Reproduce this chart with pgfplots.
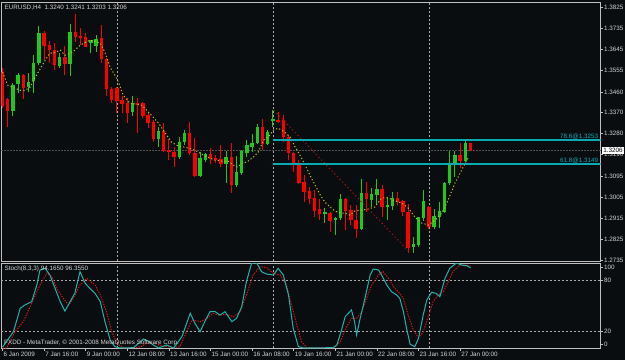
\documentclass[border=0pt]{standalone}
\usepackage{pgfplots}
\pgfplotsset{compat=1.18}
\usepackage{pgfplotstable}
\usepackage{fontspec}
\setmainfont{Liberation Sans}
\definecolor{bg}{RGB}{10,13,15}
\definecolor{framec}{RGB}{192,192,192}
\definecolor{txt}{RGB}{210,210,210}
\definecolor{upc}{RGB}{30,200,30}
\definecolor{dnc}{RGB}{250,0,0}
\definecolor{fibcyan}{RGB}{10,170,178}
\definecolor{stm}{RGB}{32,178,170}
\definecolor{sts}{RGB}{220,20,20}
\definecolor{mac}{RGB}{190,190,30}
\definecolor{fibtr}{RGB}{160,20,20}
\definecolor{sepc}{RGB}{170,170,170}
\definecolor{cur}{RGB}{80,80,80}
\newcommand{\sm}{\fontsize{6.3}{7}\selectfont}

\pgfplotstableread{
i O H L C
0 1.3545 1.3562 1.3390 1.3398
1 1.3428 1.3433 1.3308 1.3377
2 1.3377 1.3497 1.3355 1.3489
3 1.3493 1.3540 1.3454 1.3532
4 1.3532 1.3536 1.3428 1.3476
5 1.3480 1.3540 1.3458 1.3502
6 1.3506 1.3618 1.3454 1.3583
7 1.3583 1.3743 1.3575 1.3713
8 1.3713 1.3721 1.3596 1.3657
9 1.3661 1.3678 1.3583 1.3640
10 1.3640 1.3670 1.3553 1.3575
11 1.3571 1.3627 1.3562 1.3609
12 1.3609 1.3657 1.3532 1.3579
13 1.3579 1.3752 1.3527 1.3717
14 1.3717 1.3795 1.3674 1.3696
15 1.3700 1.3734 1.3661 1.3696
16 1.3696 1.3713 1.3652 1.3652
17 1.3670 1.3683 1.3627 1.3683
18 1.3657 1.3704 1.3631 1.3687
19 1.3691 1.3747 1.3583 1.3601
20 1.3601 1.3605 1.3441 1.3471
21 1.3471 1.3480 1.3411 1.3424
22 1.3476 1.3480 1.3368 1.3420
23 1.3424 1.3441 1.3368 1.3407
24 1.3411 1.3433 1.3325 1.3368
25 1.3372 1.3441 1.3355 1.3411
26 1.3411 1.3433 1.3282 1.3407
27 1.3411 1.3415 1.3346 1.3355
28 1.3359 1.3372 1.3303 1.3325
29 1.3329 1.3338 1.3243 1.3256
30 1.3256 1.3308 1.3221 1.3290
31 1.3290 1.3325 1.3200 1.3204
32 1.3209 1.3256 1.3165 1.3200
33 1.3200 1.3221 1.3135 1.3178
34 1.3178 1.3265 1.3170 1.3243
35 1.3243 1.3295 1.3230 1.3282
36 1.3282 1.3329 1.3187 1.3196
37 1.3196 1.3260 1.3092 1.3096
38 1.3096 1.3200 1.3092 1.3174
39 1.3165 1.3196 1.3157 1.3191
40 1.3191 1.3217 1.3148 1.3170
41 1.3174 1.3187 1.3152 1.3170
42 1.3170 1.3230 1.3135 1.3148
43 1.3148 1.3204 1.3066 1.3178
44 1.3178 1.3239 1.3023 1.3058
45 1.3058 1.3183 1.3049 1.3114
46 1.3109 1.3209 1.3101 1.3204
47 1.3196 1.3252 1.3178 1.3230
48 1.3221 1.3277 1.3200 1.3239
49 1.3239 1.3321 1.3234 1.3308
50 1.3308 1.3342 1.3209 1.3234
51 1.3234 1.3295 1.3230 1.3286
52 1.3333 1.3381 1.3308 1.3342
53 1.3338 1.3372 1.3325 1.3329
54 1.3338 1.3359 1.3243 1.3265
55 1.3265 1.3273 1.3165 1.3196
56 1.3196 1.3200 1.3114 1.3144
57 1.3144 1.3165 1.3062 1.3066
58 1.3071 1.3101 1.2984 1.3027
59 1.3032 1.3049 1.2976 1.2997
60 1.3002 1.3036 1.2920 1.2946
61 1.2954 1.2997 1.2907 1.2933
62 1.2933 1.2959 1.2894 1.2941
63 1.2937 1.2941 1.2855 1.2902
64 1.2907 1.2920 1.2842 1.2915
65 1.2915 1.3019 1.2907 1.2997
66 1.2997 1.3002 1.2864 1.2946
67 1.2950 1.2971 1.2885 1.2907
68 1.2907 1.2971 1.2829 1.2868
69 1.2868 1.3084 1.2864 1.3023
70 1.3023 1.3071 1.2941 1.2997
71 1.2993 1.3045 1.2963 1.3019
72 1.3015 1.3084 1.2971 1.3040
73 1.3040 1.3058 1.2920 1.2963
74 1.2963 1.3006 1.2907 1.2971
75 1.2967 1.3027 1.2950 1.3002
76 1.3002 1.3027 1.2971 1.2984
77 1.2989 1.2993 1.2924 1.2941
78 1.2941 1.2976 1.2765 1.2786
79 1.2790 1.2834 1.2765 1.2803
80 1.2799 1.2920 1.2790 1.2920
81 1.2915 1.3036 1.2902 1.2989
82 1.2963 1.2967 1.2868 1.2877
83 1.2877 1.2954 1.2868 1.2924
84 1.2920 1.2984 1.2872 1.2946
85 1.2941 1.3071 1.2937 1.3066
86 1.3066 1.3204 1.3058 1.3144
87 1.3144 1.3204 1.3092 1.3187
88 1.3187 1.3239 1.3131 1.3161
89 1.3161 1.3256 1.3157 1.3239
90 1.3240 1.3241 1.3203 1.3206
}\candles

\pgfplotstableread{
i ma
0 1.3545
1 1.3489
2.4 1.3476
3.4 1.3467
4.3 1.3467
5.3 1.3480
6.2 1.3519
7.2 1.3558
8.2 1.3596
9.1 1.3627
10.1 1.3631
11.1 1.3640
12 1.3618
13 1.3627
13.9 1.3640
14.9 1.3661
15.9 1.3674
16.8 1.3683
17.8 1.3678
18.8 1.3670
19.7 1.3631
20.7 1.3566
21.6 1.3532
22.3 1.3502
23.2 1.3446
24.5 1.3411
25.8 1.3407
26.8 1.3402
27.7 1.3381
28.8 1.3355
30 1.3325
31.3 1.3282
32.5 1.3243
33.8 1.3226
35.1 1.3221
36.4 1.3213
37.7 1.3200
38.6 1.3187
39.9 1.3174
40.9 1.3165
42.2 1.3161
43.4 1.3161
44.4 1.3144
45.2 1.3135
46 1.3152
47 1.3157
48.2 1.3178
49.2 1.3200
50.2 1.3252
51.1 1.3265
52.1 1.3295
53 1.3303
54.3 1.3286
55.3 1.3265
56.3 1.3221
57.2 1.3187
58.2 1.3144
59.1 1.3101
60.1 1.3058
61.1 1.3015
62 1.2984
63 1.2963
63.9 1.2946
64.9 1.2937
65.9 1.2937
66.8 1.2928
67.8 1.2946
69.1 1.2950
70.3 1.2954
71.6 1.2963
72.9 1.3002
74.2 1.3002
75.5 1.2989
76.8 1.2980
78 1.2959
79.3 1.2920
80.6 1.2894
81.9 1.2885
83.2 1.2907
84.5 1.2937
85.7 1.2993
87 1.3066
88.3 1.3122
89.6 1.3178
}\matable

\pgfplotstableread{
i s
0 1
2.1 19.2
3.4 46.7
4.3 50.6
5.6 54.5
6.6 74.1
7.2 91.8
8.2 93.7
9.1 85.9
10.1 70.2
11.1 54.5
12 43.5
13 54.5
13.9 64.3
14.9 89.8
15.9 76.1
16.8 70.2
17.8 64.3
18.8 54.5
19.7 31
20.7 9.4
21.6 1.6
22.6 0
25.2 0.4
27.1 10.6
28 8.2
29 3.5
30 0
31.6 3.5
32.9 0
34.5 13.3
36.1 40.8
37 29
38 19.2
38.9 31
39.9 42.7
40.9 42.7
41.8 38.8
42.8 42.7
44.1 31
45 34.9
46 48.6
46.9 78
47.9 99.6
48.9 100
49.8 89.8
50.8 87
52.1 85.9
53 93.7
54 85.9
55 62.3
55.9 23.1
56.9 1.6
57.9 0
63.6 0.4
64.3 3.5
65.2 21.2
65.9 36.9
66.5 40.8
67.1 44.7
67.7 31
68.1 15.3
68.7 32.9
69.7 58.4
70.7 85.9
71.3 92.9
72.3 91.8
72.9 85.9
73.9 74.1
74.8 66.3
75.8 62.3
76.4 58.4
77.1 42.7
77.7 23.1
78.4 4.3
79.3 1.6
80 11.4
80.9 38.8
81.6 56.5
82.5 65.5
83.4 64.3
84.1 60.4
85.1 82
86 93.7
87.3 100
88.3 97.6
89.3 96.9
90 94.165
}\stmain

\pgfplotstableread{
i s
0 0
0.8 0
2.4 19.2
4 31
5.6 52.5
7.2 74.1
8.5 87.8
9.5 83.9
10.4 70.2
11.7 58.4
12.7 50.6
13.6 58.4
14.9 74.1
16.2 82
17.8 74.1
18.8 62.3
20 42.7
21 19.2
22 5.5
23.2 0
26.5 1
27.8 6
29.5 5
31 2
32.9 0.5
34.1 1.6
35.4 19.2
36.4 32.9
38 31
39.3 34.9
40.5 40.8
41.5 38.8
43.1 39.6
44.4 36.9
45.7 42.7
46.9 62.3
48.2 85.9
49.5 95.7
50.8 94.5
52.1 87.8
53.4 85.9
54.6 74.1
55.6 50.6
56.6 27.1
57.5 7.5
58.5 0.4
63.6 0.4
64.9 6.7
66.2 25.1
67.1 34.9
68.1 34.9
69.1 42.7
70 58.4
71 74.1
72.3 85.9
73.2 89.8
74.2 82
75.2 72.2
76.1 66.3
77.1 58.4
78 38.8
79 21.2
80 12.1
80.9 19.2
81.9 36.9
82.8 54.5
83.8 62.3
84.8 66.3
85.7 78
86.7 90.6
88 97.6
89.3 97.6
90 96.355
}\stsig

\pgfplotsset{
  mtaxis/.style={
    scale only axis, anchor=south west,
    width=599pt, xmin=-0.2, xmax=115,
    axis line style={framec, line width=0.8pt},
    tick align=outside, major tick length=2.5pt,
    tick style={framec, line width=0.6pt},
    ytick pos=right, yticklabel pos=right,
    yticklabel style={font=\sm, text=txt, anchor=west, inner sep=1pt},
    xticklabel style={font=\sm, text=txt, anchor=north west, inner sep=1pt},
  },
  wick/.style 2 args={draw=none, forget plot,
    restrict expr to domain={\thisrow{C}-\thisrow{O}}{#1},
    error bars/.cd, y dir=both, y explicit, error mark=none,
    error bar style={draw=#2, line width=1pt}},
  body/.style 2 args={draw=none, forget plot,
    restrict expr to domain={\thisrow{C}-\thisrow{O}}{#1},
    error bars/.cd, y dir=both, y explicit, error mark=none,
    error bar style={draw=#2, line width=3.4pt}},
}

\begin{document}
\begin{tikzpicture}
\useasboundingbox (0,0) rectangle (625pt,360pt);
\fill[bg] (0,0) rectangle (625pt,360pt);

\begin{axis}[mtaxis,
  at={(1.5pt,99pt)}, height=259pt,
  ymin=1.2730, ymax=1.3848,
  xtick=\empty,
  ytick={1.2735,1.2825,1.2915,1.3005,1.3095,1.3190,1.3280,1.3370,1.3460,1.3555,1.3645,1.3735,1.3825},
  yticklabels={1.2735,1.2825,1.2915,1.3005,1.3095,1.3190,1.3280,1.3370,1.3460,1.3555,1.3645,1.3735,1.3825},
]
% period separators and current price
\addplot[sepc, line width=0.8pt, dash pattern=on 2pt off 2pt] coordinates {(22,1.2730) (22,1.3848)};
\addplot[sepc, line width=0.8pt, dash pattern=on 2pt off 2pt] coordinates {(52,1.2730) (52,1.3848)};
\addplot[sepc, line width=0.8pt, dash pattern=on 2pt off 2pt] coordinates {(82,1.2730) (82,1.3848)};
\addplot[cur, line width=1.3pt, dash pattern=on 2pt off 1pt] coordinates {(-0.2,1.3206) (115,1.3206)};
% candles
\addplot[wick={0:1}{upc}] table[x=i, y expr={(\thisrow{H}+\thisrow{L})/2}, y error expr={(\thisrow{H}-\thisrow{L})/2}] {\candles};
\addplot[wick={-1:-0.00001}{dnc}] table[x=i, y expr={(\thisrow{H}+\thisrow{L})/2}, y error expr={(\thisrow{H}-\thisrow{L})/2}] {\candles};
\addplot[body={0:1}{upc}] table[x=i, y expr={(\thisrow{O}+\thisrow{C})/2}, y error expr={max(abs(\thisrow{C}-\thisrow{O})/2,0.00012)}] {\candles};
\addplot[body={-1:-0.00001}{dnc}] table[x=i, y expr={(\thisrow{O}+\thisrow{C})/2}, y error expr={max(abs(\thisrow{C}-\thisrow{O})/2,0.00012)}] {\candles};
% moving average
\addplot[mac, line width=1pt, dash pattern=on 1.2pt off 2.2pt] table[x=i, y=ma] {\matable};
% fibonacci
\addplot[fibtr, line width=1pt, dash pattern=on 1.3pt off 2.5pt] coordinates {(52.2,1.3381) (78.4,1.2765)};
\addplot[color=fibcyan, solid, line width=1.4pt] coordinates {(52,1.3253) (115,1.3253)};
\addplot[color=fibcyan, solid, line width=1.4pt] coordinates {(52,1.3149) (115,1.3149)};
\node[font=\sm, text=fibcyan, anchor=south east, inner sep=0.6pt] at (axis cs:114.7,1.3253) {78.6@1.3253};
\node[font=\sm, text=fibcyan, anchor=south east, inner sep=0.6pt] at (axis cs:114.7,1.3149) {61.8@1.3149};
\node[font=\sm, text=txt, anchor=north west, inner sep=0pt] at ([xshift=3pt,yshift=-2.5pt]rel axis cs:0,1) {EURUSD,H4\ \ 1.3240 1.3241 1.3203 1.3206};
\coordinate (cp) at (axis cs:115,1.3206);
\end{axis}
\node[fill=white, text=black, font=\sm, anchor=west, inner xsep=1.2pt, inner ysep=1.3pt] at ([xshift=1.5pt]cp) {1.3206};

\begin{axis}[mtaxis,
  at={(1.5pt,12pt)}, height=85pt,
  ymin=0, ymax=100,
  xtick={0,8,...,88},
  xticklabels={6 Jan 2009,7 Jan 16:00,9 Jan 00:00,12 Jan 08:00,13 Jan 16:00,15 Jan 00:00,16 Jan 08:00,19 Jan 16:00,21 Jan 00:00,22 Jan 08:00,23 Jan 16:00,27 Jan 00:00},
  xtick pos=bottom,
  ytick={4.7,20,80,95.3},
  yticklabels={0,20,80,100},
]
\addplot[sepc, line width=0.8pt, dash pattern=on 2pt off 2pt] coordinates {(22,0) (22,100)};
\addplot[sepc, line width=0.8pt, dash pattern=on 2pt off 2pt] coordinates {(52,0) (52,100)};
\addplot[sepc, line width=0.8pt, dash pattern=on 2pt off 2pt] coordinates {(82,0) (82,100)};
\addplot[sepc, line width=0.6pt, dash pattern=on 2pt off 2pt] coordinates {(-0.2,80) (115,80)};
\addplot[sepc, line width=0.6pt, dash pattern=on 2pt off 2pt] coordinates {(-0.2,20) (115,20)};
\addplot[sts, line width=1pt, dash pattern=on 1.3pt off 1.3pt] table[x=i, y=s] {\stsig};
\addplot[stm, line width=1pt] table[x=i, y=s] {\stmain};
\node[font=\sm, text=txt, anchor=north west, inner sep=0pt] at ([xshift=3pt,yshift=-3pt]rel axis cs:0,1) {Stoch(8,3,3) 94.1650 96.3550};
\node[font=\sm, text=txt, anchor=south west, inner sep=0pt] at ([xshift=2.5pt,yshift=2pt]rel axis cs:0,0) {FXDD - MetaTrader, © 2001-2008 MetaQuotes Software Corp.};
\end{axis}
\end{tikzpicture}
\end{document}
